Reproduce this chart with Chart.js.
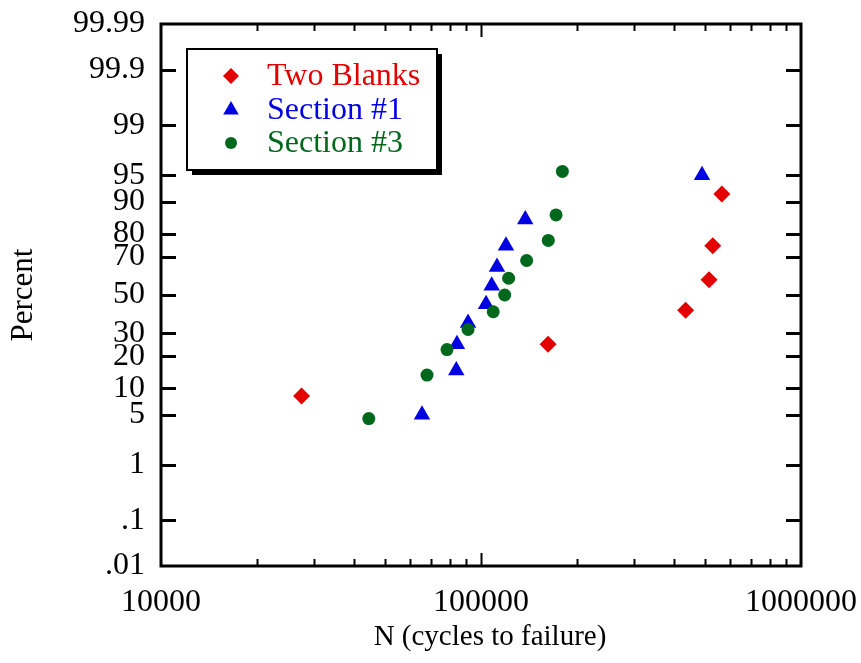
<!DOCTYPE html>
<html>
<head>
<meta charset="utf-8">
<script src="https://cdn.jsdelivr.net/npm/chart.js@4/dist/chart.umd.min.js"></script>
<style>
  html, body { margin: 0; padding: 0; background: #ffffff; }
  #wrap { width: 861px; height: 663px; }
</style>
</head>
<body>
<div id="wrap"><canvas id="c" width="861" height="663"></canvas></div>
<script>
// ---------- data ----------
const seriesNames = ['Two Blanks', 'Section #1', 'Section #3'];

const blanksCycles  = [27500, 162000, 436000, 516000, 530000, 566000];
const blanksPercent = [8.3, 25, 41.7, 58.3, 75, 91.7];

const section1Cycles  = [65400, 83700, 84100, 91100, 103700, 108000, 112200, 119700, 137500, 490600];
const section1Percent = [5, 15, 25, 35, 45, 55, 65, 75, 85, 95];

const section3Cycles  = [44600, 67800, 78300, 91100, 109200, 118600, 122000, 138900, 162300, 171600, 179600];
const section3Percent = [4.5, 13.6, 22.7, 31.8, 40.9, 50, 59.1, 68.2, 77.3, 86.4, 95.5];

const yTickValues = [0.01, 0.1, 1, 5, 10, 20, 30, 50, 70, 80, 90, 95, 99, 99.9, 99.99];
const yTickLabels = ['.01', '.1', '1', '5', '10', '20', '30', '50', '70', '80', '90', '95', '99', '99.9', '99.99'];
const xTickValues = [10000, 100000, 1000000];
const xTickLabels = ['10000', '100000', '1000000'];

// ---------- normal probability helpers ----------
function probit(p) {
  const a = [-3.969683028665376e+01, 2.209460984245205e+02, -2.759285104469687e+02, 1.383577518672690e+02, -3.066479806614716e+01, 2.506628277459239e+00];
  const b = [-5.447609879822406e+01, 1.615858368580409e+02, -1.556989798598866e+02, 6.680131188771972e+01, -1.328068155288572e+01];
  const c = [-7.784894002430293e-03, -3.223964580411365e-01, -2.400758277161838e+00, -2.549732539343734e+00, 4.374664141464968e+00, 2.938163982698783e+00];
  const d = [7.784695709041462e-03, 3.224671290700398e-01, 2.445134137142996e+00, 3.754408661907416e+00];
  const pl = 0.02425, ph = 1 - pl;
  let q, r;
  if (p < pl) {
    q = Math.sqrt(-2 * Math.log(p));
    return (((((c[0]*q+c[1])*q+c[2])*q+c[3])*q+c[4])*q+c[5]) / ((((d[0]*q+d[1])*q+d[2])*q+d[3])*q+1);
  } else if (p <= ph) {
    q = p - 0.5; r = q * q;
    return (((((a[0]*r+a[1])*r+a[2])*r+a[3])*r+a[4])*r+a[5])*q / (((((b[0]*r+b[1])*r+b[2])*r+b[3])*r+b[4])*r+1);
  } else {
    q = Math.sqrt(-2 * Math.log(1 - p));
    return -(((((c[0]*q+c[1])*q+c[2])*q+c[3])*q+c[4])*q+c[5]) / ((((d[0]*q+d[1])*q+d[2])*q+d[3])*q+1);
  }
}
function normCdf(z) {
  const t = 1 / (1 + 0.2316419 * Math.abs(z));
  const dd = 0.3989423 * Math.exp(-z * z / 2);
  let pr = dd * t * (0.3193815 + t * (-0.3565638 + t * (1.781478 + t * (-1.821256 + t * 1.330274))));
  return z > 0 ? 1 - pr : pr;
}

class ProbitScale extends Chart.Scale {
  determineDataLimits() {
    this.min = this.options.min;
    this.max = this.options.max;
  }
  buildTicks() {
    return yTickValues.map(v => ({ value: v }));
  }
  getLabelForValue(v) { return String(v); }
  configure() {
    super.configure();
    this._zStart = probit(this.min / 100);
    this._zEnd = probit(this.max / 100);
  }
  getPixelForValue(v) {
    const z = probit(v / 100);
    return this.getPixelForDecimal((z - this._zStart) / (this._zEnd - this._zStart));
  }
  getValueForPixel(px) {
    const dec = this.getDecimalForPixel(px);
    return normCdf(this._zStart + dec * (this._zEnd - this._zStart)) * 100;
  }
  getPixelForTick(i) {
    const t = this.ticks;
    if (i < 0 || i > t.length - 1) return null;
    return this.getPixelForValue(t[i].value);
  }
}
ProbitScale.id = 'probit';
ProbitScale.defaults = {};
Chart.register(ProbitScale);

const FONT = '"Liberation Serif", "Times New Roman", Times, serif';
const RED = 'rgb(226,0,0)';
const BLUE = 'rgb(0,0,226)';
const GREEN = 'rgb(0,104,28)';

function pts(xs, ys) { return xs.map((x, i) => ({ x: x, y: ys[i] })); }

const legendItems = [
  { name: seriesNames[0], color: RED, style: 'rectRot', radius: 8 },
  { name: seriesNames[1], color: BLUE, style: 'triangle', radius: 9 },
  { name: seriesNames[2], color: GREEN, style: 'circle', radius: 6 }
];

// frame, inward ticks, x title and boxed legend
const framePlugin = {
  id: 'frame',
  afterDatasetsDraw(chart) {
    const ctx = chart.ctx;
    const a = chart.chartArea;
    const xs = chart.scales.x, ys = chart.scales.y;
    ctx.save();
    ctx.strokeStyle = '#000';
    ctx.lineWidth = 3;
    ctx.lineCap = 'butt';
    ctx.beginPath();
    yTickValues.forEach(v => {
      const py = Math.round(ys.getPixelForValue(v)) + 0.5;
      if (v === yTickValues[0] || v === yTickValues[yTickValues.length - 1]) return;
      ctx.moveTo(a.left, py); ctx.lineTo(a.left + 15, py);
      ctx.moveTo(a.right, py); ctx.lineTo(a.right - 15, py);
    });
    ctx.stroke();
    ctx.lineWidth = 2;
    ctx.beginPath();
    for (let dec = 10000; dec < 1000000; dec *= 10) {
      for (let m = 1; m <= 9; m++) {
        const v = dec * m;
        if (v <= 10000) continue;
        const px = Math.round(xs.getPixelForValue(v)) + 0.5;
        const len = (m === 1) ? 13 : 7;
        ctx.moveTo(px, a.bottom); ctx.lineTo(px, a.bottom - len);
        ctx.moveTo(px, a.top); ctx.lineTo(px, a.top + len);
      }
    }
    ctx.stroke();
    ctx.lineWidth = 3;
    ctx.strokeRect(a.left, a.top, a.right - a.left, a.bottom - a.top);
    ctx.restore();
  },
  afterDraw(chart) {
    const ctx = chart.ctx;
    const bx = 187, by = 49, bw = 250, bh = 121;
    ctx.save();
    // x axis title
    ctx.fillStyle = '#000';
    ctx.font = '29px ' + FONT;
    ctx.textAlign = 'center';
    ctx.textBaseline = 'middle';
    ctx.fillText('N (cycles to failure)', 490, 637);
    // legend box with shadow
    ctx.fillStyle = '#000';
    ctx.fillRect(bx + 5, by + 5, bw, bh);
    ctx.fillStyle = '#fff';
    ctx.fillRect(bx, by, bw, bh);
    ctx.strokeStyle = '#000';
    ctx.lineWidth = 2;
    ctx.strokeRect(bx, by, bw, bh);
    const rowsY = [76, 110, 143];
    ctx.font = '32px ' + FONT;
    ctx.textBaseline = 'middle';
    ctx.textAlign = 'left';
    legendItems.forEach((it, i) => {
      ctx.fillStyle = it.color;
      ctx.strokeStyle = it.color;
      Chart.helpers.drawPoint(ctx, { pointStyle: it.style, radius: it.radius, rotation: 0, borderWidth: 0 }, 231, rowsY[i]);
      ctx.fillStyle = it.color;
      ctx.fillText(it.name, 267, rowsY[i] + 1);
    });
    ctx.restore();
  }
};

function zeroPad(scale) {
  scale.paddingLeft = 0; scale.paddingRight = 0; scale.paddingTop = 0; scale.paddingBottom = 0;
}

new Chart(document.getElementById('c'), {
  type: 'scatter',
  data: {
    datasets: [
      { label: seriesNames[0], data: pts(blanksCycles, blanksPercent), pointStyle: 'rectRot', pointRadius: 8.5,
        backgroundColor: RED, borderColor: RED, borderWidth: 0, order: 2 },
      { label: seriesNames[1], data: pts(section1Cycles, section1Percent), pointStyle: 'triangle', pointRadius: 9.5,
        backgroundColor: BLUE, borderColor: BLUE, borderWidth: 0, order: 1 },
      { label: seriesNames[2], data: pts(section3Cycles, section3Percent), pointStyle: 'circle', pointRadius: 6.5,
        backgroundColor: GREEN, borderColor: GREEN, borderWidth: 0, order: 0 }
    ]
  },
  options: {
    responsive: false,
    maintainAspectRatio: false,
    animation: false,
    events: [],
    layout: { padding: { top: 24, right: 60, bottom: 0, left: 0 } },
    plugins: { legend: { display: false }, tooltip: { enabled: false } },
    scales: {
      x: {
        type: 'logarithmic',
        position: 'bottom',
        min: 10000,
        max: 1000000,
        afterBuildTicks(scale) { scale.ticks = xTickValues.map(v => ({ value: v, major: true })); },
        afterFit(scale) { scale.height = 97; zeroPad(scale); },
        ticks: {
          autoSkip: false,
          maxRotation: 0,
          padding: 17,
          color: '#000',
          font: { family: FONT, size: 32 },
          callback(v, i) { return xTickLabels[i]; }
        },
        grid: { display: true, drawOnChartArea: false, drawTicks: false, color: 'rgba(0,0,0,0)' },
        border: { display: false },
        title: { display: false }
      },
      y: {
        type: 'probit',
        position: 'left',
        min: 0.01,
        max: 99.99,
        afterFit(scale) { scale.width = 161; zeroPad(scale); },
        ticks: {
          autoSkip: false,
          padding: 16,
          color: '#000',
          font: { family: FONT, size: 32 },
          callback(v, i) { return yTickLabels[i]; }
        },
        grid: { display: true, drawOnChartArea: false, drawTicks: false, color: 'rgba(0,0,0,0)' },
        border: { display: false },
        title: {
          display: true,
          text: 'Percent',
          color: '#000',
          font: { family: FONT, size: 31 },
          padding: { top: 5, bottom: 0 }
        }
      }
    }
  },
  plugins: [framePlugin]
});
</script>
</body>
</html>
